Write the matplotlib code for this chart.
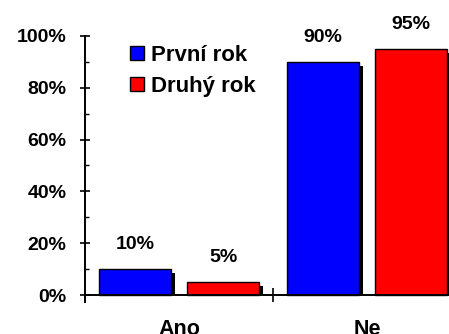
import matplotlib
matplotlib.use('Agg')
import matplotlib.pyplot as plt
from matplotlib.patches import Patch
import numpy as np

matplotlib.rcParams['font.family'] = ['Liberation Sans', 'DejaVu Sans']
matplotlib.rcParams['font.weight'] = 'bold'

categories = ['Ano', 'Ne']
series_names = ['První rok', 'Druhý rok']
prvni_rok = [10, 90]
druhy_rok = [5, 95]
colors = ['#0000ff', '#ff0000']

fig = plt.figure(figsize=(4.49, 3.34), dpi=100)
ax = fig.add_axes([85 / 449, 0.0973, 364 / 449, 0.795])

x = np.arange(len(categories))
width = 0.378
offset = 0.234
# stín pod sloupci (posunutý doprava a dolů)
sdx = 0.025
sdy = 1.5

for vals, shift, col in [(prvni_rok, -offset, colors[0]), (druhy_rok, offset, colors[1])]:
    vals = np.array(vals, dtype=float)
    ax.bar(x + shift + sdx, vals - sdy, width=width, color='black', zorder=1)
    ax.bar(x + shift, vals, width=width, color=col, edgecolor='black', linewidth=1.0, zorder=2)
    for xi, v in zip(x + shift, vals):
        ax.annotate('%d%%' % v, (xi, v), xytext=(0, 17.5), textcoords='offset points',
                    ha='center', va='center', fontsize=14, fontweight='bold')

ax.set_xlim(-0.5, 1.436)
ax.set_ylim(-2.5, 100)

for s in ['top', 'right']:
    ax.spines[s].set_visible(False)
ax.spines['bottom'].set_position(('data', 0))
ax.spines['bottom'].set_linewidth(1.4)
ax.spines['left'].set_linewidth(1.4)

ax.set_yticks(np.arange(0, 101, 20))
ax.set_yticklabels(['%d%%' % v for v in range(0, 101, 20)])
ax.set_yticks(np.arange(10, 100, 20), minor=True)
ax.tick_params(axis='y', which='major', direction='inout', length=7, width=1.2, pad=10, labelsize=14)
ax.tick_params(axis='y', which='minor', direction='in', length=3, width=1.0)

ax.set_xticks([0.5])
ax.set_xticklabels([''])
ax.set_xticks(x, minor=True)
ax.set_xticklabels(categories, minor=True)
ax.tick_params(axis='x', which='major', direction='inout', length=10, width=1.2)
ax.tick_params(axis='x', which='minor', length=0, pad=17, labelsize=15.5)

handles = [Patch(facecolor=c, edgecolor='black', linewidth=1.0) for c in colors]
ax.legend(handles, series_names, loc='upper left', bbox_to_anchor=(0.1, 1.0),
          frameon=False, fontsize=16, handlelength=0.63, handleheight=0.63,
          handletextpad=0.3, labelspacing=0.45, borderaxespad=0)

fig.savefig('out.png', dpi=100)
